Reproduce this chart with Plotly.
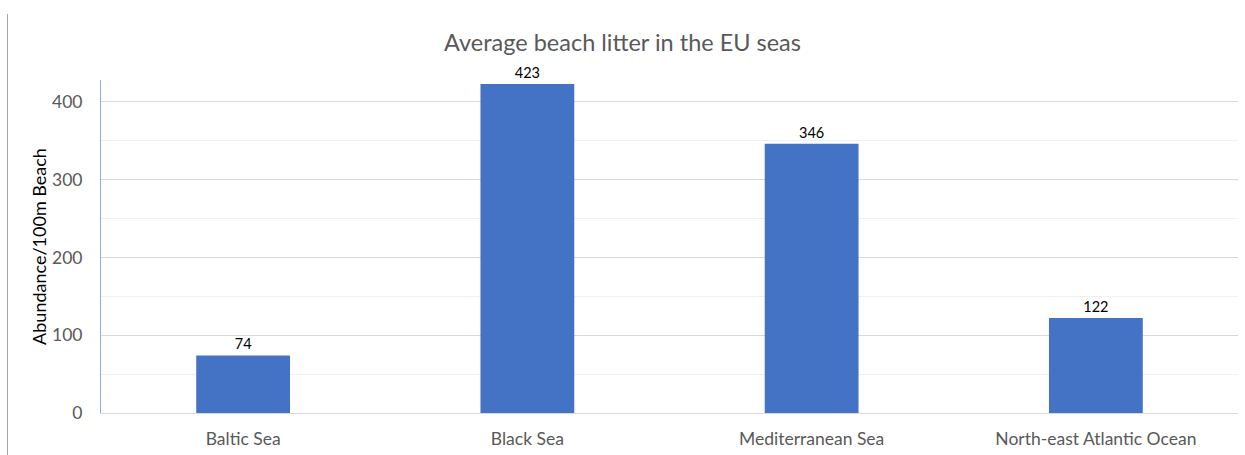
import plotly.graph_objects as go

categories = ["Baltic Sea", "Black Sea", "Mediterranean Sea", "North-east Atlantic Ocean"]
values = [74, 423, 346, 122]
y_ticks = [0, 100, 200, 300, 400]

W, H = 1245, 455
L, R, T, B = 101, 1238, 80, 413
FONT = "Lato, Carlito, sans-serif"

fig = go.Figure(go.Bar(
    x=categories, y=values,
    marker=dict(color="#4472C4", line=dict(width=0)),
    text=[str(v) for v in values], textposition="outside",
    textfont=dict(family=FONT, size=14.5, color="#000000"),
    cliponaxis=False,
))

fig.update_layout(
    width=W, height=H,
    margin=dict(l=L, r=W - R, t=T, b=H - B, pad=0),
    paper_bgcolor="white", plot_bgcolor="white",
    bargap=0.67,
    showlegend=False,
    title=dict(text="Average beach litter in the EU seas", x=0.5, xanchor="center",
               y=1 - 43 / H, yanchor="middle",
               font=dict(family=FONT, size=23.5, color="#595959")),
    font=dict(family=FONT),
)

fig.update_yaxes(
    range=[0, 428], tickvals=y_ticks, showgrid=True, gridcolor="#d9d9d9", gridwidth=1,
    minor=dict(dtick=50, tick0=0, showgrid=True, gridcolor="#f0f0f0", gridwidth=1),
    showline=True, linecolor="#8faadc", linewidth=1, zeroline=False,
    ticks="", ticklabelstandoff=14,
    tickfont=dict(family=FONT, size=17.5, color="#595959"),
    title=dict(text="Abundance/100m Beach", standoff=0,
               font=dict(family=FONT, size=18, color="#000000")),
)
fig.update_xaxes(
    showline=True, linecolor="#d9d9d9", linewidth=1, ticks="", ticklabelstandoff=10,
    tickfont=dict(family=FONT, size=17.5, color="#595959"),
)

pw, ph = R - L, B - T
fig.add_shape(type="line", xref="paper", yref="paper",
              x0=(7.5 - L) / pw, x1=(7.5 - L) / pw,
              y0=(B - 14) / ph, y1=(B - 455) / ph,
              line=dict(color="#a6a6a6", width=1))

fig.write_html("out.html")
